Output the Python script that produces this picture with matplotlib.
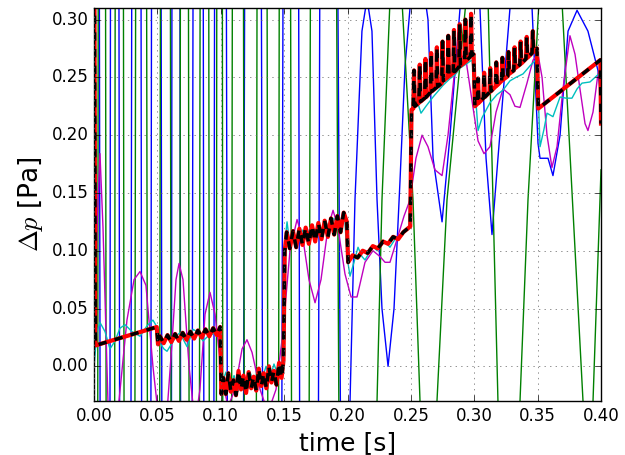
import matplotlib
matplotlib.use('Agg')
import matplotlib.pyplot as plt
import numpy as np

plt.style.use('classic')

# (time [s], dp [Pa]) vertices
green = [(0.0, -3), (0.006, 3), (0.013, -3), (0.0197, 3), (0.0276, -3), (0.0371, 3),
         (0.047, -3), (0.0568, 3), (0.0646, -3), (0.071, 3), (0.0789, -3), (0.0876, 3),
         (0.0942, -3), (0.099, 3), (0.1041, -3), (0.1132, 3), (0.1238, -3), (0.1325, 3),
         (0.1416, -3), (0.1498, 3), (0.1617, -3), (0.178, 3), (0.196, -0.6),
         (0.2233, -0.03), (0.2272, 0.144), (0.2335, 0.316), (0.2383, 0.40), (0.2430, 0.316),
         (0.2517, 0.144), (0.2572, -0.03), (0.2635, -0.25), (0.2706, -0.03), (0.2785, 0.144),
         (0.2935, 0.316), (0.3022, 0.36), (0.3109, 0.316), (0.3187, -0.03), (0.3266, -0.2),
         (0.3361, -0.03), (0.3424, 0.144), (0.3511, 0.316), (0.3598, 0.38), (0.3692, 0.316),
         (0.3858, -0.03), (0.3897, -0.08), (0.3937, -0.03), (0.3992, 0.144), (0.40, 0.17)]

blue = [(0.0, 3), (0.0095, -3), (0.0158, 3), (0.0245, -3), (0.034, 3), (0.041, -3),
        (0.0489, 3), (0.058, -3), (0.0643, 3), (0.0722, -3), (0.0829, 3), (0.0903, -3),
        (0.099, 3), (0.1112, -3), (0.125, 3), (0.1408, -3), (0.1558, 3), (0.1685, -3),
        (0.183, 2.0), (0.197, -0.5), (0.2020, -0.03), (0.2059, 0.144), (0.2114, 0.29),
        (0.2154, 0.318), (0.2193, 0.29), (0.2233, 0.144), (0.2272, 0.05), (0.2320, 0.0),
        (0.2367, 0.05), (0.2414, 0.16), (0.2454, 0.26), (0.2509, 0.33), (0.2572, 0.35),
        (0.2635, 0.30), (0.2675, 0.18), (0.2746, 0.125), (0.2809, 0.20), (0.2888, 0.31),
        (0.2966, 0.36), (0.3045, 0.31), (0.3093, 0.18), (0.3140, 0.114), (0.3187, 0.18),
        (0.3282, 0.31), (0.3369, 0.36), (0.3456, 0.31), (0.3503, 0.193), (0.3519, 0.18),
        (0.3582, 0.18), (0.3621, 0.165), (0.3677, 0.20), (0.3740, 0.29), (0.3811, 0.308),
        (0.3897, 0.29), (0.3976, 0.256), (0.40, 0.23)]

magenta = [(0.0, 0.0), (0.0024, 0.12), (0.0047, 0.184), (0.0071, 0.12), (0.0110, -0.03),
           (0.0150, -0.09), (0.0197, -0.03), (0.0260, 0.04), (0.0316, 0.075), (0.0363, 0.082),
           (0.0410, 0.07), (0.0465, 0.0), (0.0505, -0.04), (0.0536, -0.06), (0.0576, -0.04),
           (0.0615, 0.02), (0.0647, 0.075), (0.0671, 0.089), (0.0702, 0.075), (0.0750, 0.0),
           (0.0797, -0.05), (0.0836, -0.02), (0.0876, 0.045), (0.0915, 0.064), (0.0955, 0.045),
           (0.1010, -0.01), (0.1057, -0.035), (0.1112, -0.02), (0.1168, 0.015), (0.1207, 0.023),
           (0.1247, 0.012), (0.1310, -0.02), (0.1373, -0.04), (0.1436, -0.02), (0.1491, 0.03),
           (0.1546, 0.10), (0.1602, 0.127), (0.1649, 0.11), (0.1696, 0.075), (0.1744, 0.055),
           (0.1791, 0.075), (0.1846, 0.12), (0.1886, 0.135), (0.1925, 0.12), (0.1980, 0.08),
           (0.2028, 0.06), (0.2075, 0.06), (0.2138, 0.09), (0.2201, 0.10), (0.2256, 0.095),
           (0.2296, 0.09), (0.2335, 0.09), (0.2391, 0.11), (0.2446, 0.13), (0.2493, 0.144),
           (0.2540, 0.18), (0.2588, 0.20), (0.2635, 0.19), (0.2690, 0.17), (0.2746, 0.165),
           (0.2793, 0.20), (0.2840, 0.25), (0.2888, 0.27), (0.2935, 0.265), (0.2982, 0.23),
           (0.3030, 0.195), (0.3077, 0.184), (0.3124, 0.19), (0.3172, 0.22), (0.3227, 0.24),
           (0.3282, 0.235), (0.3321, 0.225), (0.3361, 0.224), (0.3416, 0.245), (0.3464, 0.265),
           (0.3503, 0.27), (0.3535, 0.25), (0.3574, 0.20), (0.3613, 0.172), (0.3653, 0.19),
           (0.3700, 0.24), (0.3755, 0.286), (0.3795, 0.27), (0.3834, 0.24), (0.3874, 0.21),
           (0.3897, 0.204), (0.3937, 0.22), (0.3976, 0.253), (0.40, 0.26)]

cyan = [(0.0, 0.0), (0.0024, 0.030), (0.0047, 0.038), (0.0087, 0.030), (0.0126, 0.015),
        (0.0166, 0.022), (0.0205, 0.033), (0.0245, 0.036), (0.0300, 0.030), (0.0363, 0.026),
        (0.0418, 0.035), (0.0465, 0.040), (0.0497, 0.034), (0.0521, 0.020), (0.0552, 0.015),
        (0.0576, 0.013), (0.0615, 0.020), (0.0655, 0.027), (0.0678, 0.029), (0.0710, 0.022),
        (0.0734, 0.017), (0.0757, 0.024), (0.0781, 0.032), (0.0813, 0.030), (0.0860, 0.022),
        (0.0899, 0.026), (0.0939, 0.028), (0.0978, 0.030), (0.0994, 0.028), (0.1010, -0.015),
        (0.1041, -0.005), (0.1073, -0.020), (0.1105, -0.008), (0.1136, -0.022), (0.1168, -0.010),
        (0.1199, -0.018), (0.1231, -0.005), (0.1262, -0.015), (0.1294, -0.003), (0.1325, -0.012),
        (0.1357, 0.000), (0.1389, -0.010), (0.1420, 0.002), (0.1452, -0.008), (0.1483, 0.004),
        (0.1499, 0.100), (0.1523, 0.125), (0.1546, 0.105), (0.1578, 0.115), (0.1609, 0.108),
        (0.1641, 0.118), (0.1673, 0.110), (0.1704, 0.120), (0.1736, 0.113), (0.1767, 0.123),
        (0.1799, 0.115), (0.1830, 0.125), (0.1862, 0.118), (0.1893, 0.128), (0.1925, 0.120),
        (0.1957, 0.130), (0.1980, 0.125), (0.1996, 0.095), (0.2020, 0.078), (0.2051, 0.090),
        (0.2083, 0.103), (0.2114, 0.095), (0.2138, 0.092), (0.2170, 0.098), (0.2201, 0.104),
        (0.2233, 0.100), (0.2264, 0.105), (0.2296, 0.108), (0.2335, 0.103), (0.2375, 0.110),
        (0.2414, 0.113), (0.2454, 0.117), (0.2485, 0.121), (0.2501, 0.210), (0.2517, 0.243),
        (0.2548, 0.230), (0.2580, 0.219), (0.2619, 0.225), (0.2675, 0.233), (0.2714, 0.238),
        (0.2753, 0.243), (0.2809, 0.249), (0.2848, 0.252), (0.2888, 0.258), (0.2943, 0.262),
        (0.2982, 0.265), (0.3006, 0.240), (0.3030, 0.204), (0.3061, 0.215), (0.3124, 0.228),
        (0.3179, 0.235), (0.3227, 0.239), (0.3282, 0.247), (0.3329, 0.250), (0.3385, 0.253),
        (0.3440, 0.260), (0.3495, 0.266), (0.3519, 0.190), (0.3550, 0.205), (0.3574, 0.219),
        (0.3621, 0.216), (0.3677, 0.233), (0.3724, 0.232), (0.3771, 0.232), (0.3811, 0.240),
        (0.3850, 0.245), (0.3913, 0.246), (0.3953, 0.250), (0.3992, 0.254)]

# reference solution (red solid + black dashed)
ref = [(0.0, 0.5), (0.001, 0.018), (0.0495, 0.034), (0.0505, 0.019),
       (0.052, 0.026), (0.055, 0.020), (0.058, 0.027), (0.061, 0.021), (0.064, 0.028),
       (0.067, 0.022), (0.070, 0.029), (0.073, 0.023), (0.076, 0.030), (0.079, 0.024),
       (0.082, 0.031), (0.085, 0.025), (0.088, 0.032), (0.091, 0.026), (0.094, 0.033),
       (0.097, 0.027), (0.0995, 0.034),
       (0.1005, -0.024), (0.102, -0.010), (0.104, -0.024), (0.106, -0.006), (0.108, -0.022),
       (0.110, -0.012), (0.112, -0.025), (0.114, -0.004), (0.116, -0.020), (0.118, -0.008),
       (0.120, -0.023), (0.122, -0.005), (0.124, -0.019), (0.126, -0.009), (0.128, -0.021),
       (0.130, -0.002), (0.132, -0.017), (0.134, -0.006), (0.136, -0.019), (0.138, 0.000),
       (0.140, -0.014), (0.142, -0.004), (0.144, -0.016), (0.146, 0.003), (0.148, -0.010),
       (0.1495, 0.005),
       (0.1505, 0.100), (0.152, 0.116), (0.1545, 0.102), (0.157, 0.117), (0.1595, 0.103),
       (0.162, 0.119), (0.1645, 0.105), (0.167, 0.120), (0.1695, 0.106), (0.172, 0.122),
       (0.1745, 0.108), (0.177, 0.124), (0.1795, 0.110), (0.182, 0.126), (0.1845, 0.112),
       (0.187, 0.128), (0.1895, 0.114), (0.192, 0.130), (0.1945, 0.116), (0.197, 0.133),
       (0.1995, 0.125),
       (0.2005, 0.090), (0.204, 0.096), (0.208, 0.094), (0.212, 0.100), (0.216, 0.098),
       (0.220, 0.104), (0.224, 0.102), (0.228, 0.108), (0.232, 0.106), (0.236, 0.112),
       (0.240, 0.110), (0.244, 0.116), (0.2495, 0.121),
       (0.2505, 0.222), (0.2519, 0.223), (0.2525, 0.256), (0.2531, 0.225),
       (0.2564, 0.228), (0.2570, 0.261), (0.2576, 0.229), (0.2609, 0.232), (0.2615, 0.266),
       (0.2621, 0.233), (0.2654, 0.237), (0.2660, 0.271), (0.2666, 0.238), (0.2699, 0.241),
       (0.2705, 0.276), (0.2711, 0.242), (0.2744, 0.245), (0.2750, 0.281), (0.2756, 0.247),
       (0.2789, 0.250), (0.2795, 0.286), (0.2801, 0.251), (0.2834, 0.254), (0.2840, 0.291),
       (0.2846, 0.255), (0.2879, 0.259), (0.2885, 0.296), (0.2891, 0.260), (0.2924, 0.263),
       (0.2930, 0.300), (0.2936, 0.264), (0.2969, 0.268), (0.2975, 0.305), (0.2981, 0.269),
       (0.2995, 0.270),
       (0.3005, 0.225), (0.3024, 0.227), (0.3030, 0.249), (0.3036, 0.228), (0.3072, 0.232),
       (0.3078, 0.254), (0.3084, 0.233), (0.3120, 0.237), (0.3126, 0.258), (0.3132, 0.238),
       (0.3168, 0.242), (0.3174, 0.263), (0.3180, 0.243), (0.3216, 0.247), (0.3222, 0.267),
       (0.3228, 0.248), (0.3264, 0.251), (0.3270, 0.272), (0.3276, 0.253), (0.3312, 0.256),
       (0.3318, 0.276), (0.3324, 0.258), (0.3360, 0.261), (0.3366, 0.281), (0.3372, 0.262),
       (0.3408, 0.266), (0.3414, 0.285), (0.3420, 0.267), (0.3456, 0.271), (0.3462, 0.290),
       (0.3468, 0.272), (0.3495, 0.275),
       (0.3505, 0.223), (0.3995, 0.265), (0.40, 0.21)]

xticks = [0.00, 0.05, 0.10, 0.15, 0.20, 0.25, 0.30, 0.35, 0.40]
yticks = [0.00, 0.05, 0.10, 0.15, 0.20, 0.25, 0.30]

fig = plt.figure(figsize=(6.25, 4.55), dpi=100, facecolor='white')
ax = fig.add_axes([0.1504, 0.1187, 0.8112, 0.8637])

for data, col in [(blue, 'b'), (green, 'g'), (magenta, 'm'), (cyan, 'c')]:
    t, v = np.array(data).T
    ax.plot(t, v, color=col, lw=1.0)

t, v = np.array(ref).T
ax.plot(t, v, 'r-', lw=3.0)
ax.plot(t, v, 'k--', lw=2.5)

ax.set_xlim(0, 0.40)
ax.set_ylim(-0.03, 0.31)
ax.set_xticks(xticks)
ax.set_yticks(yticks)
ax.set_xticklabels(['%.2f' % x for x in xticks])
ax.set_yticklabels(['%.2f' % y for y in yticks])
ax.tick_params(labelsize=12)
ax.grid(True, color='0.4')
ax.set_xlabel('time [s]', fontsize=18)
ax.set_ylabel(r'$\Delta p$ [Pa]', fontsize=19)

fig.savefig('out.png', dpi=100, facecolor='white')
